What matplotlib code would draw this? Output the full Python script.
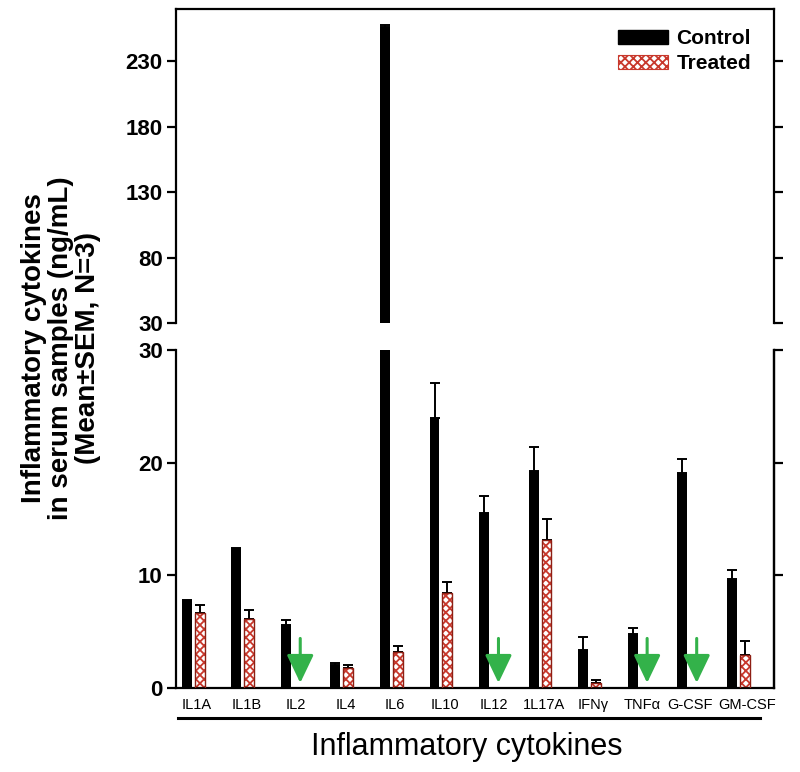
import numpy as np
import matplotlib
matplotlib.use('Agg')
import matplotlib.pyplot as plt
from matplotlib.patches import Patch
from matplotlib.lines import Line2D
from matplotlib.transforms import ScaledTranslation

plt.rcParams['font.family'] = ['Liberation Sans', 'DejaVu Sans']
plt.rcParams['hatch.linewidth'] = 1.3

# data (ng/mL, mean and SEM)
cytokines = ['IL1A', 'IL1B', 'IL2', 'IL4', 'IL6', 'IL10', 'IL12', '1L17A',
             'IFNγ', 'TNFα', 'G-CSF', 'GM-CSF']
control_mean = [7.75, 12.3, 5.6, 2.0, 256.0, 24.0, 15.5, 19.25, 3.4, 4.75, 19.1, 9.7]
control_sem = [0.1, 0.1, 0.4, 0.25, 1.5, 3.1, 1.5, 2.1, 1.1, 0.6, 1.2, 0.8]
treated_mean = [6.65, 6.1, np.nan, 1.8, 3.2, 8.45, np.nan, 13.1, 0.4, np.nan, np.nan, 2.9]
treated_sem = [0.7, 0.8, np.nan, 0.2, 0.5, 0.95, np.nan, 1.9, 0.3, np.nan, np.nan, 1.3]

x = np.arange(len(cytokines))
ctrl_m = np.array(control_mean)
ctrl_s = np.array(control_sem)
trt_m = np.array(treated_mean)
trt_s = np.array(treated_sem)
has_trt = ~np.isnan(trt_m)

hatch_red = '#c8382c'
edge_red = '#8e1f14'
green = '#33b24a'
w = 0.2
off = 0.13

fig = plt.figure(figsize=(8, 7.72), dpi=100)
ax_top = fig.add_axes([0.22, 0.5816, 0.7475, 0.4067])
ax_bot = fig.add_axes([0.22, 0.1088, 0.7475, 0.4378])

for ax in (ax_top, ax_bot):
    ax.bar(x - off, ctrl_m, width=w, color='black', zorder=2)
    ax.errorbar(x - off, ctrl_m, yerr=[np.zeros_like(ctrl_s), ctrl_s], fmt='none',
                ecolor='black', elinewidth=1.4, capsize=3.5, capthick=1.4, zorder=1)
    ax.bar(x[has_trt] + off, trt_m[has_trt], width=w, facecolor='white',
           edgecolor=hatch_red, hatch='xxxx', linewidth=0, zorder=2)
    ax.bar(x[has_trt] + off, trt_m[has_trt], width=w, facecolor='none',
           edgecolor=edge_red, linewidth=1.0, zorder=3)
    ax.errorbar(x[has_trt] + off, trt_m[has_trt],
                yerr=[np.zeros(has_trt.sum()), trt_s[has_trt]], fmt='none',
                ecolor='black', elinewidth=1.4, capsize=3.5, capthick=1.4, zorder=1)
    ax.set_xlim(-0.347, 11.72)
    for s in ax.spines.values():
        s.set_linewidth(1.6)
    ax.tick_params(axis='y', direction='out', length=6.5, width=1.6, pad=3)

# green arrows where treated values were not detected
for i in x[~has_trt]:
    ax_bot.annotate('', xy=(i + 0.16, 0.45), xytext=(i + 0.16, 4.4),
                    arrowprops=dict(arrowstyle='-|>,head_length=1.15,head_width=0.55',
                                    mutation_scale=15, color=green, lw=2.2,
                                    shrinkA=0, shrinkB=0))

# top panel (broken axis)
ax_top.set_ylim(30, 269.7)
ax_top.set_yticks([30, 80, 130, 180, 230])
ax_top.spines['bottom'].set_visible(False)
ax_top.tick_params(axis='x', bottom=False, labelbottom=False)
ax_top.tick_params(axis='y', right=True, labelright=False, labelsize=16)

# bottom panel
ax_bot.set_ylim(0, 30)
ax_bot.set_yticks([0, 10, 20, 30])
ax_bot.spines['top'].set_visible(False)
ax_bot.tick_params(axis='y', labelsize=16)
ax_bot.set_xticks(x + 0.07)
ax_bot.set_xticklabels(cytokines, fontsize=10.5)
ax_bot.tick_params(axis='x', length=0, pad=7)
# small nudges so the last two labels do not touch
last = ax_bot.get_xticklabels()
last[-1].set_transform(last[-1].get_transform() + ScaledTranslation(4 / 72, 0, fig.dpi_scale_trans))
last[-2].set_transform(last[-2].get_transform() + ScaledTranslation(-1.5 / 72, 0, fig.dpi_scale_trans))
sec = ax_bot.secondary_yaxis('right')
sec.set_yticks([10, 20, 30])
sec.tick_params(direction='out', length=6.5, width=1.6, labelright=False)
sec.spines['right'].set_linewidth(1.6)

for ax in (ax_top, ax_bot):
    for lab in ax.get_yticklabels():
        lab.set_fontweight('bold')

# legend
handles = [Patch(facecolor='black', edgecolor='black'),
           Patch(facecolor='white', edgecolor=hatch_red, hatch='xxxx', linewidth=0.8)]
fig.legend(handles, ['Control', 'Treated'], loc='upper left',
           bbox_to_anchor=(618 / 800, 1 - 29 / 772), frameon=False,
           prop={'weight': 'bold', 'size': 15}, handlelength=2.4, handleheight=0.65,
           handletextpad=0.4, labelspacing=0.3, borderpad=0, borderaxespad=0)

# underline and axis titles
fig.add_artist(Line2D([178 / 800, 760 / 800], [1 - 718 / 772] * 2, color='black', lw=2.2))
fig.text(0.584, 1 - 747 / 772, 'Inflammatory cytokines', fontsize=22,
         ha='center', va='center')
fig.text(61 / 800, 1 - 348 / 772,
         'Inflammatory cytokines\nin serum samples (ng/mL)\n(Mean±SEM, N=3)',
         rotation=90, ha='center', va='center', multialignment='center',
         fontsize=20, fontweight='bold', linespacing=1.05)

fig.savefig('out.png', dpi=100)
